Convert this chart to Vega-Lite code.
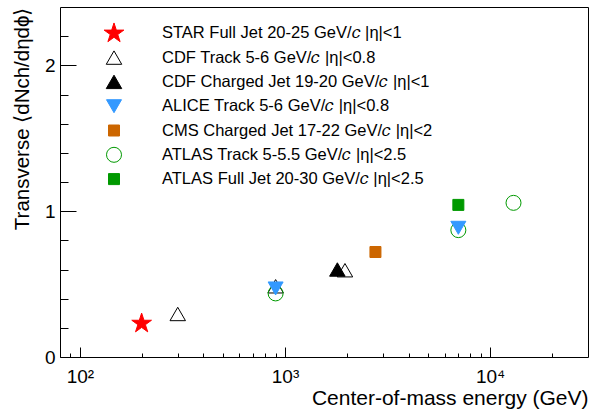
{
  "$schema": "https://vega.github.io/schema/vega-lite/v6.json",
  "width": 528,
  "height": 350,
  "autosize": {"type": "none"},
  "padding": {"left": 60, "top": 7, "right": 8, "bottom": 54},
  "background": "white",
  "config": {
    "font": "Liberation Sans",
    "view": {"stroke": "#000000", "strokeWidth": 1},
    "axis": {"grid": false, "domain": false, "tickColor": "#000000", "tickWidth": 1, "labelColor": "#000000", "titleColor": "#000000", "labelFont": "Liberation Sans", "titleFont": "Liberation Sans", "titleFontWeight": "normal"}
  },
  "data": {
    "values": [
      {"E": 200, "V": 0.23, "series": "STAR Full Jet 20-25 GeV/𝑐 |η|<1"},
      {"E": 300, "V": 0.295, "series": "CDF Track 5-6 GeV/𝑐 |η|<0.8"},
      {"E": 900, "V": 0.485, "series": "CDF Track 5-6 GeV/𝑐 |η|<0.8"},
      {"E": 1960, "V": 0.595, "series": "CDF Track 5-6 GeV/𝑐 |η|<0.8"},
      {"E": 1800, "V": 0.6, "series": "CDF Charged Jet 19-20 GeV/𝑐 |η|<1"},
      {"E": 900, "V": 0.436, "series": "ATLAS Track 5-5.5 GeV/𝑐 |η|<2.5"},
      {"E": 7000, "V": 0.87, "series": "ATLAS Track 5-5.5 GeV/𝑐 |η|<2.5"},
      {"E": 13000, "V": 1.057, "series": "ATLAS Track 5-5.5 GeV/𝑐 |η|<2.5"},
      {"E": 7000, "V": 1.043, "series": "ATLAS Full Jet 20-30 GeV/𝑐 |η|<2.5"},
      {"E": 2760, "V": 0.72, "series": "CMS Charged Jet 17-22 GeV/𝑐 |η|<2"},
      {"E": 900, "V": 0.47, "series": "ALICE Track 5-6 GeV/𝑐 |η|<0.8"},
      {"E": 7000, "V": 0.886, "series": "ALICE Track 5-6 GeV/𝑐 |η|<0.8"}
    ]
  },
  "resolve": {"axis": {"x": "independent", "y": "independent"}},
  "layer": [
    {
      "mark": {"type": "point", "opacity": 1, "strokeWidth": 1},
      "encoding": {
        "x": {
          "field": "E", "type": "quantitative",
          "scale": {"type": "log", "domain": [80, 30000], "nice": false},
          "axis": {
            "orient": "bottom",
            "values": [100, 1000, 10000],
            "labelExpr": "datum.value == 100 ? '10²' : datum.value == 1000 ? '10³' : '10⁴'",
            "ticks": false, "labelFontSize": 19, "labelPadding": 10,
            "title": "Center-of-mass energy (GeV)", "titleFontSize": 21,
            "titleAnchor": "end", "titleBaseline": "top", "titlePadding": 1
          }
        },
        "y": {
          "field": "V", "type": "quantitative",
          "scale": {"domain": [0, 2.4], "nice": false, "zero": false},
          "axis": {
            "orient": "left",
            "values": [0, 1, 2], "ticks": false, "labelFontSize": 19, "labelPadding": 5,
            "title": "Transverse ⟨dNch/dηdϕ⟩", "titleFontSize": 20.5,
            "titleAnchor": "end", "titlePadding": 12
          }
        },
        "shape": {
          "field": "series", "type": "nominal",
          "scale": {
            "domain": ["STAR Full Jet 20-25 GeV/𝑐 |η|<1", "CDF Track 5-6 GeV/𝑐 |η|<0.8", "CDF Charged Jet 19-20 GeV/𝑐 |η|<1", "ALICE Track 5-6 GeV/𝑐 |η|<0.8", "CMS Charged Jet 17-22 GeV/𝑐 |η|<2", "ATLAS Track 5-5.5 GeV/𝑐 |η|<2.5", "ATLAS Full Jet 20-30 GeV/𝑐 |η|<2.5"],
            "range": ["M0,-1L0.2245,-0.309L0.951,-0.309L0.363,0.118L0.588,0.809L0,0.382L-0.588,0.809L-0.363,0.118L-0.951,-0.309L-0.2245,-0.309Z", "triangle-up", "triangle-up", "triangle-down", "square", "circle", "square"]
          },
          "legend": {"title": null, "orient": "none", "legendX": 43, "legendY": 15.3, "clipHeight": 22, "rowPadding": 2.3, "labelOffset": 37, "padding": 0, "labelFontSize": 16.5, "labelFont": "Liberation Sans", "labelColor": "#000000", "labelLimit": 400, "symbolStrokeWidth": 1, "symbolOpacity": 1}
        },
        "fill": {
          "field": "series", "type": "nominal",
          "scale": {
            "domain": ["STAR Full Jet 20-25 GeV/𝑐 |η|<1", "CDF Track 5-6 GeV/𝑐 |η|<0.8", "CDF Charged Jet 19-20 GeV/𝑐 |η|<1", "ALICE Track 5-6 GeV/𝑐 |η|<0.8", "CMS Charged Jet 17-22 GeV/𝑐 |η|<2", "ATLAS Track 5-5.5 GeV/𝑐 |η|<2.5", "ATLAS Full Jet 20-30 GeV/𝑐 |η|<2.5"],
            "range": ["#ff0000", "transparent", "#000000", "#3399ff", "#cc6600", "transparent", "#009900"]
          },
          "legend": {"title": null, "orient": "none", "legendX": 43, "legendY": 15.3, "clipHeight": 22, "rowPadding": 2.3, "labelOffset": 37, "padding": 0, "labelFontSize": 16.5, "labelFont": "Liberation Sans", "labelColor": "#000000", "labelLimit": 400, "symbolStrokeWidth": 1, "symbolOpacity": 1}
        },
        "stroke": {
          "field": "series", "type": "nominal",
          "scale": {
            "domain": ["STAR Full Jet 20-25 GeV/𝑐 |η|<1", "CDF Track 5-6 GeV/𝑐 |η|<0.8", "CDF Charged Jet 19-20 GeV/𝑐 |η|<1", "ALICE Track 5-6 GeV/𝑐 |η|<0.8", "CMS Charged Jet 17-22 GeV/𝑐 |η|<2", "ATLAS Track 5-5.5 GeV/𝑐 |η|<2.5", "ATLAS Full Jet 20-30 GeV/𝑐 |η|<2.5"],
            "range": ["#ff0000", "#000000", "#000000", "#3399ff", "#cc6600", "#009900", "#009900"]
          },
          "legend": {"title": null, "orient": "none", "legendX": 43, "legendY": 15.3, "clipHeight": 22, "rowPadding": 2.3, "labelOffset": 37, "padding": 0, "labelFontSize": 16.5, "labelFont": "Liberation Sans", "labelColor": "#000000", "labelLimit": 400, "symbolStrokeWidth": 1, "symbolOpacity": 1}
        },
        "size": {
          "field": "series", "type": "nominal",
          "scale": {
            "type": "ordinal",
            "domain": ["STAR Full Jet 20-25 GeV/𝑐 |η|<1", "CDF Track 5-6 GeV/𝑐 |η|<0.8", "CDF Charged Jet 19-20 GeV/𝑐 |η|<1", "ALICE Track 5-6 GeV/𝑐 |η|<0.8", "CMS Charged Jet 17-22 GeV/𝑐 |η|<2", "ATLAS Track 5-5.5 GeV/𝑐 |η|<2.5", "ATLAS Full Jet 20-30 GeV/𝑐 |η|<2.5"],
            "range": [430, 240, 240, 225, 121, 225, 121]
          },
          "legend": {"title": null, "orient": "none", "legendX": 43, "legendY": 15.3, "clipHeight": 22, "rowPadding": 2.3, "labelOffset": 37, "padding": 0, "labelFontSize": 16.5, "labelFont": "Liberation Sans", "labelColor": "#000000", "labelLimit": 400, "symbolStrokeWidth": 1, "symbolOpacity": 1}
        }
      }
    },
    {
      "mark": {"type": "point", "opacity": 0},
      "encoding": {
        "x": {"field": "E", "type": "quantitative", "axis": {"orient": "bottom", "values": [100, 1000, 10000], "labels": false, "tickSize": -10, "title": null}},
        "y": {"field": "V", "type": "quantitative", "axis": {"orient": "left", "values": [0, 1, 2], "labels": false, "tickSize": -16, "title": null}}
      }
    },
    {
      "mark": {"type": "point", "opacity": 0},
      "encoding": {
        "x": {"field": "E", "type": "quantitative", "axis": {"orient": "bottom", "values": [90, 200, 300, 400, 500, 600, 700, 800, 900, 2000, 3000, 4000, 5000, 6000, 7000, 8000, 9000, 20000], "labels": false, "tickSize": -4, "title": null}},
        "y": {"field": "V", "type": "quantitative", "axis": {"orient": "left", "values": [0.2, 0.4, 0.6, 0.8, 1.2, 1.4, 1.6, 1.8, 2.2], "labels": false, "tickSize": -8, "title": null}}
      }
    }
  ]
}
